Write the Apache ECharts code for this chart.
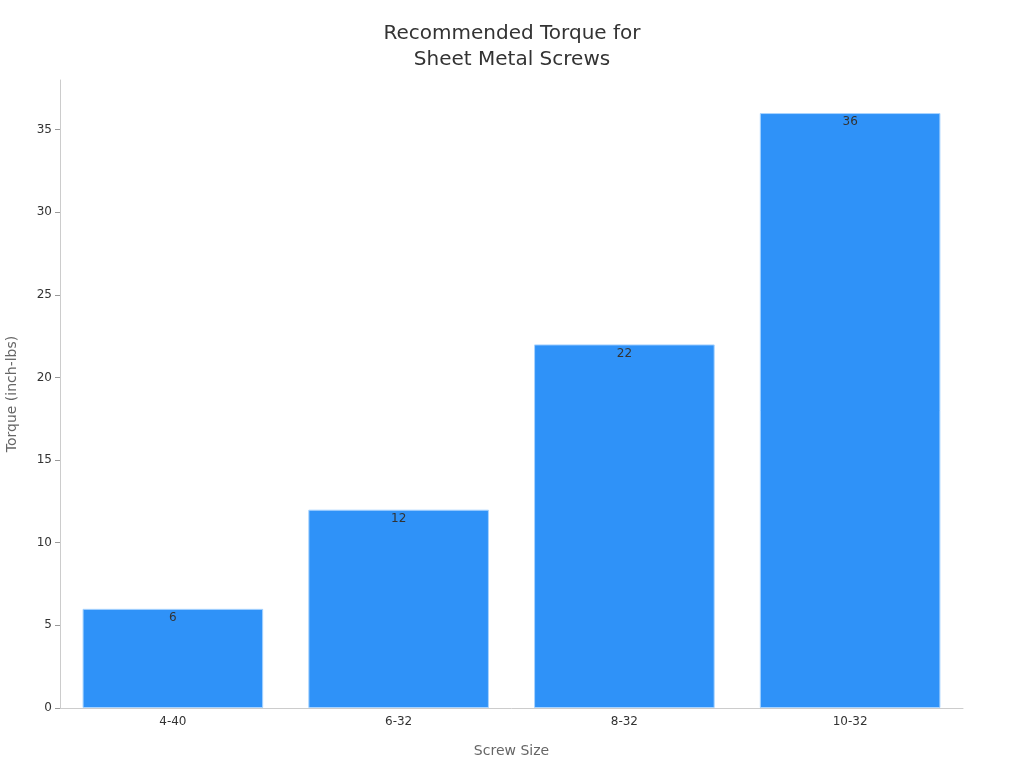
<!DOCTYPE html>
<html><head><meta charset="utf-8">
<script src="https://cdn.jsdelivr.net/npm/echarts@6/dist/echarts.min.js"></script>
<style>html,body{margin:0;padding:0;background:#fff}#c{width:1024px;height:768px}</style>
</head><body><div id="c"></div>
<script>
const categories = ['4-40', '6-32', '8-32', '10-32'];
const torqueValues = [6, 12, 22, 36];
const chart = echarts.init(document.getElementById('c'));
chart.setOption({
  textStyle: { fontFamily: 'DejaVu Sans' },
  title: {
    text: 'Recommended Torque for\nSheet Metal Screws',
    left: 'center', top: 16,
    textStyle: { fontSize: 20, fontWeight: 'normal', color: '#333', lineHeight: 26, fontFamily: 'DejaVu Sans' }
  },
  grid: { left: 60, right: 61, top: 80, bottom: 60, containLabel: false, outerBoundsMode: 'none' },
  xAxis: {
    type: 'category', data: categories,
    name: 'Screw Size', nameLocation: 'middle', nameGap: 36,
    nameTextStyle: { color: '#666', fontSize: 14 },
    axisLine: { lineStyle: { color: '#ccc' } },
    axisTick: { alignWithLabel: true, lineStyle: { color: '#999' } },
    axisLabel: { color: '#333', fontSize: 12 }
  },
  yAxis: {
    type: 'value', min: 0, max: 38, interval: 5,
    name: 'Torque (inch-lbs)', nameLocation: 'middle', nameGap: 41,
    nameTextStyle: { color: '#666', fontSize: 14 },
    axisLine: { show: true, lineStyle: { color: '#ccc' } },
    axisTick: { show: true, lineStyle: { color: '#999' } },
    splitLine: { show: false },
    axisLabel: { color: '#333', fontSize: 12, showMaxLabel: false }
  },
  series: [{
    type: 'bar', data: torqueValues, barWidth: '80%',
    itemStyle: { color: '#2f92f8', borderColor: '#a9d4ff', borderWidth: 1 },
    label: { show: true, position: 'insideTop', distance: 3, color: '#333', fontSize: 12 }
  }]
});
</script></body></html>
